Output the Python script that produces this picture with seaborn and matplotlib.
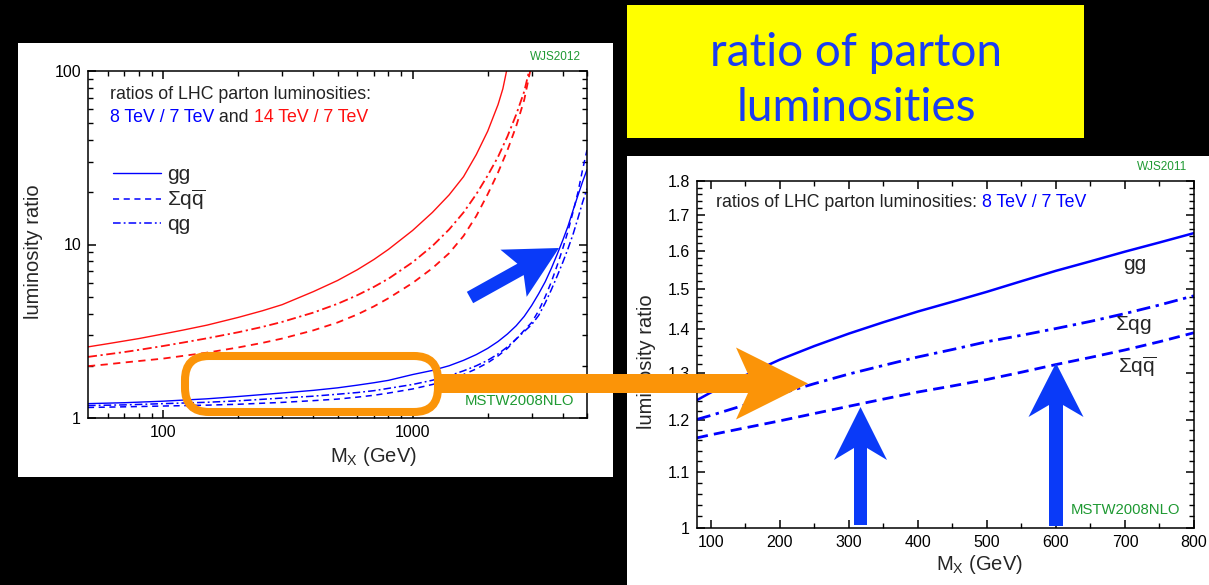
import numpy as np
import pandas as pd
import matplotlib
matplotlib.use("Agg")
import matplotlib.pyplot as plt
import seaborn as sns
from matplotlib.patches import Rectangle, Polygon, FancyBboxPatch
from matplotlib.transforms import IdentityTransform
from matplotlib.ticker import FixedLocator, NullFormatter, FixedFormatter

# ---------------- data: left panel (log-log) ----------------
mx_blue = [50, 70, 100, 150, 200, 300, 400, 500, 600, 700, 800, 1000, 1200, 1400, 1600, 1800,
           2000, 2200, 2400, 2600, 2800, 3000, 3200, 3400, 3600, 3800, 4000, 4200, 4400, 4600,
           4800, 5000]
r8_gg = [1.21, 1.225, 1.25, 1.29, 1.33, 1.394, 1.443, 1.492, 1.546, 1.597, 1.648, 1.78, 1.88, 2.0,
         2.15, 2.32, 2.52, 2.76, 3.05, 3.4, 3.85, 4.45, 5.2, 6.1, 7.3, 8.8, 10.6, 12.8, 15.8, 19.2,
         23.0, 27.0]
r8_qq = [1.15, 1.16, 1.172, 1.186, 1.20, 1.23, 1.259, 1.285, 1.319, 1.352, 1.392, 1.47, 1.56, 1.66,
         1.78, 1.92, 2.08, 2.28, 2.52, 2.85, 3.2, 3.55, 4.15, 5.0, 6.1, 7.6, 9.5, 12.0, 15.5, 20.0,
         27.0, 35.0]
r8_qg = [1.18, 1.19, 1.21, 1.232, 1.256, 1.303, 1.336, 1.371, 1.402, 1.437, 1.482, 1.56, 1.65, 1.75,
         1.87, 2.0, 2.15, 2.34, 2.57, 2.85, 3.15, 3.45, 3.9, 4.6, 5.5, 6.6, 7.9, 9.5, 11.5, 14.2,
         17.5, 21.0]

mx_red_gg = [50, 60, 70, 80, 100, 120, 150, 200, 250, 300, 400, 500, 600, 700, 800, 1000, 1200,
             1400, 1600, 1800, 2000, 2200, 2300, 2380]
r14_gg = [2.57, 2.68, 2.78, 2.87, 3.05, 3.21, 3.43, 3.80, 4.15, 4.50, 5.35, 6.2, 7.15, 8.2, 9.37,
          12.05, 15.3, 19.3, 24.6, 33.0, 45.0, 64.0, 79.0, 100.0]
mx_red_qg = [50, 60, 70, 80, 100, 120, 150, 200, 250, 300, 400, 500, 600, 700, 800, 1000, 1200,
             1400, 1600, 1800, 2000, 2200, 2400, 2600, 2800, 2930]
r14_qg = [2.25, 2.33, 2.40, 2.47, 2.60, 2.72, 2.88, 3.12, 3.35, 3.58, 4.05, 4.55, 5.1, 5.7, 6.35,
          7.9, 9.8, 12.2, 15.3, 19.5, 25.0, 32.0, 42.0, 56.0, 76.0, 100.0]
mx_red_qq = [50, 60, 70, 80, 100, 120, 150, 200, 250, 300, 400, 500, 600, 700, 800, 1000, 1200,
             1400, 1600, 1800, 2000, 2200, 2400, 2600, 2800, 2960]
r14_qq = [1.99, 2.04, 2.09, 2.13, 2.20, 2.28, 2.38, 2.55, 2.71, 2.87, 3.2, 3.55, 3.95, 4.4, 4.9,
          6.0, 7.3, 8.9, 11.2, 14.6, 19.5, 26.0, 35.0, 48.0, 68.0, 100.0]

# ---------------- data: right panel (8 TeV / 7 TeV zoom) ----------------
mx_zoom = [80, 100, 150, 200, 250, 300, 350, 400, 450, 500, 550, 600, 650, 700, 750, 800]
z_gg = [1.242, 1.258, 1.295, 1.33, 1.361, 1.39, 1.417, 1.443, 1.467, 1.492, 1.519, 1.546, 1.571,
        1.597, 1.622, 1.648]
z_qg = [1.202, 1.21, 1.232, 1.255, 1.277, 1.298, 1.317, 1.336, 1.353, 1.371, 1.386, 1.402, 1.419,
        1.438, 1.459, 1.482]
z_qq = [1.165, 1.171, 1.185, 1.199, 1.214, 1.229, 1.244, 1.259, 1.272, 1.286, 1.302, 1.319, 1.335,
        1.352, 1.371, 1.392]

left_xticks = [100, 1000]
left_xminor = [60, 70, 80, 90, 200, 300, 400, 500, 600, 700, 800, 900, 2000, 3000, 4000, 5000]
left_yticks = [1, 10, 100]
left_yminor = [2, 3, 4, 5, 6, 7, 8, 9, 20, 30, 40, 50, 60, 70, 80, 90]
right_xticks = [100, 200, 300, 400, 500, 600, 700, 800]
right_yticks = [1.0, 1.1, 1.2, 1.3, 1.4, 1.5, 1.6, 1.7, 1.8]
right_ytick_labels = ["1", "1.1", "1.2", "1.3", "1.4", "1.5", "1.6", "1.7", "1.8"]

# ---------------- style ----------------
sns.set_style("ticks", rc={"xtick.direction": "in", "ytick.direction": "in",
                           "xtick.top": True, "ytick.right": True,
                           "xtick.color": "black", "ytick.color": "black",
                           "axes.edgecolor": "black"})
plt.rcParams["font.family"] = ["Liberation Sans", "DejaVu Sans"]
plt.rcParams["mathtext.fontset"] = "custom"
plt.rcParams["mathtext.rm"] = "Liberation Sans"
plt.rcParams["mathtext.it"] = "Liberation Sans:italic"
plt.rcParams["mathtext.bf"] = "Liberation Sans:bold"
plt.rcParams["axes.linewidth"] = 1.1
plt.rcParams["xtick.major.size"] = 6
plt.rcParams["ytick.major.size"] = 6
plt.rcParams["xtick.minor.size"] = 3.5
plt.rcParams["ytick.minor.size"] = 3.5
plt.rcParams["xtick.major.width"] = 1.1
plt.rcParams["ytick.major.width"] = 1.1
plt.rcParams["xtick.minor.width"] = 1.0
plt.rcParams["ytick.minor.width"] = 1.0

W, H = 1209, 585
fig = plt.figure(figsize=(W / 100, H / 100), dpi=100, facecolor="black")
ID = IdentityTransform()

def px(x, y):
    return (x, H - y)

BLUE = "#0000FF"
RED = "#FF1010"
GREEN = "#1E9932"
ORANGE = "#FB9408"
ABLUE = "#0A3AF8"

# white panels
fig.patches.append(Rectangle(px(18, 477), 595, 434, transform=ID, facecolor="white",
                             edgecolor="none", zorder=-2))
fig.patches.append(Rectangle(px(627, 585), 582, 429, transform=ID, facecolor="white",
                             edgecolor="none", zorder=-2))

def style_ticks(ax):
    ax.tick_params(which="both", direction="in", top=True, right=True, bottom=True, left=True,
                   labelsize=11.5, colors="black")
    ax.tick_params(which="major", length=6, width=1.1, pad=5)
    ax.tick_params(which="minor", length=3.5, width=1.0)

# ---------------- left axes ----------------
axL = fig.add_axes([88 / W, (H - 418) / H, 499 / W, 347 / H])
axL.set_facecolor("none")
sns.lineplot(x=mx_red_gg, y=r14_gg, ax=axL, color=RED, lw=1.0, errorbar=None)
sns.lineplot(x=mx_red_qq, y=r14_qq, ax=axL, color=RED, lw=1.3, linestyle=(0, (4, 3)), errorbar=None)
sns.lineplot(x=mx_red_qg, y=r14_qg, ax=axL, color=RED, lw=1.3, linestyle=(0, (5, 2, 1.2, 2)), errorbar=None)
sns.lineplot(x=mx_blue, y=r8_gg, ax=axL, color=BLUE, lw=1.0, errorbar=None)
sns.lineplot(x=mx_blue, y=r8_qq, ax=axL, color=BLUE, lw=1.1, linestyle=(0, (4, 3)), errorbar=None)
sns.lineplot(x=mx_blue, y=r8_qg, ax=axL, color=BLUE, lw=1.1, linestyle=(0, (5, 2, 1.2, 2)), errorbar=None)
axL.set_xscale("log")
axL.set_yscale("log")
axL.set_xlim(50, 5000)
axL.set_ylim(1, 100)
axL.xaxis.set_major_locator(FixedLocator(left_xticks))
axL.xaxis.set_major_formatter(FixedFormatter([str(v) for v in left_xticks]))
axL.xaxis.set_minor_locator(FixedLocator(left_xminor))
axL.xaxis.set_minor_formatter(NullFormatter())
axL.yaxis.set_major_locator(FixedLocator(left_yticks))
axL.yaxis.set_major_formatter(FixedFormatter([str(v) for v in left_yticks]))
axL.yaxis.set_minor_locator(FixedLocator(left_yminor))
axL.yaxis.set_minor_formatter(NullFormatter())
style_ticks(axL)
for sp in axL.spines.values():
    sp.set_visible(True)
    sp.set_color("black")
    sp.set_linewidth(1.1)
axL.set_xlabel(r"M$_\mathregular{X}$ (GeV)", fontsize=14.5)
axL.set_ylabel("luminosity ratio", fontsize=14.5)
axL.xaxis.set_label_coords(0.571, -0.078)
axL.yaxis.set_label_coords(-0.09, 0.478)

lines = axL.get_lines()
axL.legend(handles=[lines[3], lines[4], lines[5]],
           labels=["gg", r"$\Sigma\mathrm{q}\overline{\mathrm{q}}$", "qg"],
           loc="upper left", bbox_to_anchor=(0.05, 0.728), frameon=False,
           fontsize=15, handlelength=2.3, handletextpad=0.3, labelspacing=0.15,
           borderpad=0, borderaxespad=0)

t1 = axL.text(0.044, 0.931, "ratios of LHC parton luminosities:", transform=axL.transAxes,
              fontsize=12.8, va="center", ha="left", color="#222222")
t2 = axL.text(0.044, 0.867, "8 TeV / 7 TeV", transform=axL.transAxes,
              fontsize=12.8, va="center", ha="left", color=BLUE)
t3 = axL.annotate(" and ", xy=(1, 0), xycoords=t2, va="bottom", ha="left", fontsize=12.8, color="#222222")
axL.annotate("14 TeV / 7 TeV", xy=(1, 0), xycoords=t3, va="bottom", ha="left", fontsize=12.8, color=RED)
axL.text(0.936, 1.04, "WJS2012", transform=axL.transAxes, fontsize=8.5, color=GREEN,
         ha="center", va="center")
axL.text(0.864, 0.049, "MSTW2008NLO", transform=axL.transAxes, fontsize=10.7, color=GREEN,
         ha="center", va="center")

# ---------------- right axes ----------------
axR = fig.add_axes([697 / W, (H - 528) / H, 497 / W, 347 / H])
axR.set_facecolor("none")
sns.lineplot(x=mx_zoom, y=z_gg, ax=axR, color=BLUE, lw=1.8, errorbar=None)
sns.lineplot(x=mx_zoom, y=z_qg, ax=axR, color=BLUE, lw=2.0, linestyle=(0, (5, 2, 1.2, 2)), errorbar=None)
sns.lineplot(x=mx_zoom, y=z_qq, ax=axR, color=BLUE, lw=2.0, linestyle=(0, (4, 2.2)), errorbar=None)
axR.set_yscale("log")
axR.set_xlim(80, 800)
axR.set_ylim(1.0, 1.8)
axR.xaxis.set_major_locator(FixedLocator(right_xticks))
axR.xaxis.set_major_formatter(FixedFormatter([str(v) for v in right_xticks]))
axR.xaxis.set_minor_locator(FixedLocator([v + 50 for v in right_xticks[:-1]]))
axR.xaxis.set_minor_formatter(NullFormatter())
axR.yaxis.set_major_locator(FixedLocator(right_yticks))
axR.yaxis.set_major_formatter(FixedFormatter(right_ytick_labels))
axR.yaxis.set_minor_locator(FixedLocator([round(1.0 + 0.02 * i, 2) for i in range(41)]))
axR.yaxis.set_minor_formatter(NullFormatter())
style_ticks(axR)
for sp in axR.spines.values():
    sp.set_visible(True)
    sp.set_color("black")
    sp.set_linewidth(1.1)
axR.set_xlabel(r"M$_\mathregular{X}$ (GeV)", fontsize=14.5)
axR.set_ylabel("luminosity ratio", fontsize=14.5)
axR.xaxis.set_label_coords(0.569, -0.072)
axR.yaxis.set_label_coords(-0.083, 0.478)

s1 = axR.text(0.038, 0.937, "ratios of LHC parton luminosities: ", transform=axR.transAxes,
              fontsize=12.8, va="center", ha="left", color="#222222")
axR.annotate("8 TeV / 7 TeV", xy=(1, 0), xycoords=s1, va="bottom", ha="left", fontsize=12.8, color=BLUE)
axR.text(714, 1.562, "gg", fontsize=15, ha="center", va="center")
axR.text(712, 1.411, r"$\Sigma\mathrm{qg}$", fontsize=15, ha="center", va="center")
axR.text(717, 1.314, r"$\Sigma\mathrm{q}\overline{\mathrm{q}}$", fontsize=15, ha="center", va="center")
axR.text(0.936, 1.04, "WJS2011", transform=axR.transAxes, fontsize=8.5, color=GREEN,
         ha="center", va="center")
axR.text(0.863, 0.052, "MSTW2008NLO", transform=axR.transAxes, fontsize=10.7, color=GREEN,
         ha="center", va="center")

# ---------------- yellow title box ----------------
fig.patches.append(Rectangle(px(627, 138), 457, 133, transform=ID, facecolor="#FFFF00",
                             edgecolor="none", zorder=1))
fig.text(856 / W, 1 - 66 / H, "ratio of parton", fontsize=33, color="#1A3DF2",
         ha="center", va="baseline", family=["Lato", "DejaVu Sans"])
fig.text(856 / W, 1 - 121 / H, "luminosities", fontsize=33, color="#1A3DF2",
         ha="center", va="baseline", family=["Lato", "DejaVu Sans"])

# ---------------- annotation shapes ----------------
def arrow_poly(tail, tip, sw, hw, hl, notch):
    t = np.array(tail, float)
    p = np.array(tip, float)
    d = (p - t) / np.linalg.norm(p - t)
    n = np.array([-d[1], d[0]])
    j = p - d * (hl - notch)
    b = p - d * hl
    pts = [t + n * sw / 2, j + n * sw / 2, b + n * hw / 2, p,
           b - n * hw / 2, j - n * sw / 2, t - n * sw / 2]
    return [px(x, y) for x, y in pts]

# orange rounded rectangle
fig.patches.append(FancyBboxPatch(px(185, 412), 253, 56, boxstyle="round,pad=0,rounding_size=24",
                                  transform=ID, facecolor="none", edgecolor=ORANGE,
                                  lw=5.8, zorder=5))
# orange arrow
fig.patches.append(Polygon(arrow_poly((437, 383.5), (808, 383.5), 19, 72, 72, 12),
                           closed=True, transform=ID, facecolor=ORANGE, edgecolor="none", zorder=6))
# blue arrows
fig.patches.append(Polygon(arrow_poly((470, 297.5), (559, 248), 13, 54, 52, 8),
                           closed=True, transform=ID, facecolor=ABLUE, edgecolor="none", zorder=6))
fig.patches.append(Polygon(arrow_poly((860.5, 525), (860.5, 407), 13, 53, 53, 12),
                           closed=True, transform=ID, facecolor=ABLUE, edgecolor="none", zorder=6))
fig.patches.append(Polygon(arrow_poly((1056, 526), (1056, 363), 14, 55, 54, 12),
                           closed=True, transform=ID, facecolor=ABLUE, edgecolor="none", zorder=6))

fig.savefig("out.png", dpi=100, facecolor="black")
